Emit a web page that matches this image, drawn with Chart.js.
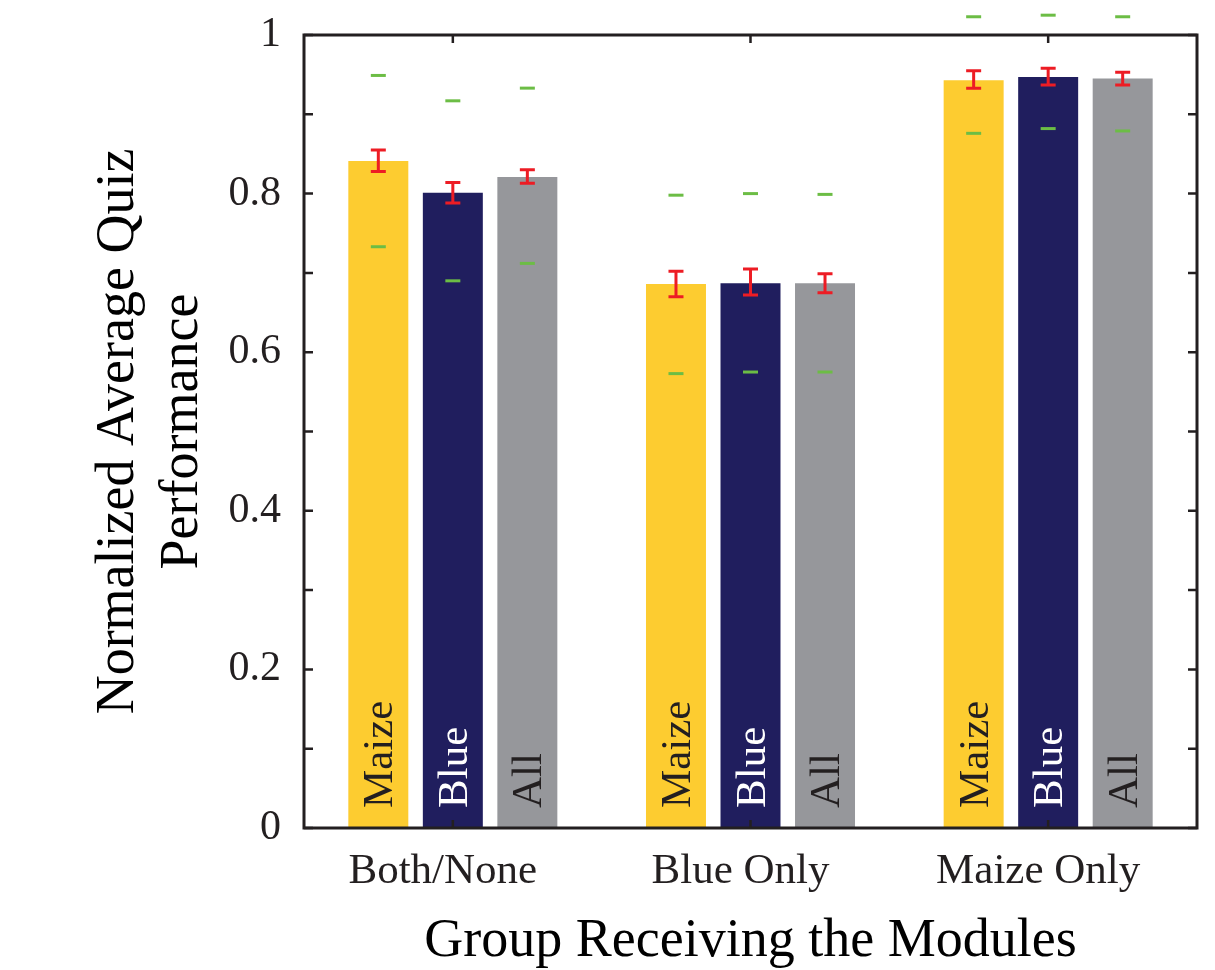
<!DOCTYPE html>
<html>
<head>
<meta charset="utf-8">
<script src="https://cdn.jsdelivr.net/npm/chart.js@4/dist/chart.umd.min.js"></script>
<style>
  html, body { margin: 0; padding: 0; background: #ffffff; }
  #wrap { width: 1215px; height: 970px; }
</style>
</head>
<body>
<div id="wrap"><canvas id="c" width="1215" height="970"></canvas></div>
<script>
// ---- data ----
const categories = ['Both/None', 'Blue Only', 'Maize Only'];
const seriesNames = ['Maize', 'Blue', 'All'];

const maizeValues = [0.841, 0.686, 0.943];
const blueValues  = [0.801, 0.687, 0.947];
const allValues   = [0.821, 0.687, 0.945];

// standard error bars (low / high)
const maizeErrLow  = [0.828, 0.670, 0.933];
const maizeErrHigh = [0.855, 0.702, 0.955];
const blueErrLow   = [0.788, 0.672, 0.937];
const blueErrHigh  = [0.814, 0.705, 0.958];
const allErrLow    = [0.813, 0.675, 0.937];
const allErrHigh   = [0.830, 0.699, 0.953];

// green markers (upper / lower)
const maizeMarkHigh = [0.949, 0.798, 1.023];
const maizeMarkLow  = [0.733, 0.573, 0.876];
const blueMarkHigh  = [0.917, 0.800, 1.025];
const blueMarkLow   = [0.690, 0.575, 0.882];
const allMarkHigh   = [0.933, 0.799, 1.023];
const allMarkLow    = [0.712, 0.575, 0.879];

const yTickValues = [0, 0.2, 0.4, 0.6, 0.8, 1];
const yTickLabels = ['0', '0.2', '0.4', '0.6', '0.8', '1'];

// ---- styles ----
const INK = '#231F20';
const barColors = ['#FDCC30', '#201E5E', '#96979B'];
const barLabelColors = ['#231F20', '#FFFFFF', '#231F20'];
const SERIF = '"Liberation Serif", "Times New Roman", Times, serif';

const errLows  = [maizeErrLow, blueErrLow, allErrLow];
const errHighs = [maizeErrHigh, blueErrHigh, allErrHigh];
const markHighs = [maizeMarkHigh, blueMarkHigh, allMarkHigh];
const markLows  = [maizeMarkLow, blueMarkLow, allMarkLow];

const overlay = {
  id: 'overlay',
  afterDatasetsDraw(chart) {
    const ctx = chart.ctx;
    const y = chart.scales.y;
    const x = chart.scales.x;
    const area = chart.chartArea;
    ctx.save();
    // bar labels
    chart.data.datasets.forEach((ds, di) => {
      const meta = chart.getDatasetMeta(di);
      meta.data.forEach((bar) => {
        ctx.save();
        ctx.translate(bar.x + 14, bar.base - 20);
        ctx.rotate(-Math.PI / 2);
        ctx.font = '43px ' + SERIF;
        ctx.fillStyle = barLabelColors[di];
        ctx.textAlign = 'left';
        ctx.textBaseline = 'alphabetic';
        ctx.fillText(seriesNames[di], 0, 0);
        ctx.restore();
      });
    });
    // error bars
    ctx.strokeStyle = '#ED1C24';
    ctx.lineWidth = 3;
    chart.data.datasets.forEach((ds, di) => {
      const meta = chart.getDatasetMeta(di);
      meta.data.forEach((bar, i) => {
        const lo = y.getPixelForValue(errLows[di][i]);
        const hi = y.getPixelForValue(errHighs[di][i]);
        const cx = bar.x;
        ctx.beginPath();
        ctx.moveTo(cx, lo); ctx.lineTo(cx, hi);
        ctx.moveTo(cx - 7.5, lo); ctx.lineTo(cx + 7.5, lo);
        ctx.moveTo(cx - 7.5, hi); ctx.lineTo(cx + 7.5, hi);
        ctx.stroke();
      });
    });
    // green markers
    ctx.strokeStyle = '#6CBD45';
    ctx.lineWidth = 3;
    chart.data.datasets.forEach((ds, di) => {
      const meta = chart.getDatasetMeta(di);
      meta.data.forEach((bar, i) => {
        [markHighs[di][i], markLows[di][i]].forEach(v => {
          const py = y.getPixelForValue(v);
          ctx.beginPath();
          ctx.moveTo(bar.x - 7.5, py); ctx.lineTo(bar.x + 7.5, py);
          ctx.stroke();
        });
      });
    });
    // frame
    ctx.strokeStyle = INK;
    ctx.lineWidth = 3;
    ctx.strokeRect(area.left, area.top, area.right - area.left, area.bottom - area.top);
    // y ticks (minor every 0.1) inward on both sides
    ctx.lineWidth = 2.5;
    ctx.beginPath();
    y.ticks.forEach(t => {
      const py = y.getPixelForValue(t.value);
      ctx.moveTo(area.left, py); ctx.lineTo(area.left + 9, py);
      ctx.moveTo(area.right, py); ctx.lineTo(area.right - 9, py);
    });
    // x ticks at category centers, top and bottom
    categories.forEach((c, i) => {
      const px = x.getPixelForValue(i);
      ctx.moveTo(px, area.top); ctx.lineTo(px, area.top + 8);
      ctx.moveTo(px, area.bottom); ctx.lineTo(px, area.bottom - 8);
    });
    ctx.stroke();
    ctx.restore();
  }
};

const valuesList = [maizeValues, blueValues, allValues];

new Chart(document.getElementById('c'), {
  type: 'bar',
  data: {
    labels: categories,
    datasets: seriesNames.map((n, di) => ({
      label: n,
      data: valuesList[di],
      backgroundColor: barColors[di],
      borderWidth: 0,
      categoryPercentage: 0.751,
      barPercentage: 0.805
    }))
  },
  options: {
    responsive: false,
    animation: false,
    events: [],
    layout: { padding: { top: 35, right: 18, left: 0, bottom: 0 } },
    plugins: { legend: { display: false }, tooltip: { enabled: false } },
    scales: {
      x: {
        afterFit(s) { s.height = 142; s.paddingLeft = 0; s.paddingRight = 0; },
        grid: { display: false, drawTicks: false },
        border: { display: false },
        ticks: {
          color: INK,
          font: { family: SERIF, size: 43 },
          padding: 18,
          labelOffset: -10,
          maxRotation: 0,
          autoSkip: false
        },
        title: {
          display: true,
          text: 'Group Receiving the Modules',
          color: '#000000',
          font: { family: SERIF, size: 54, lineHeight: 1.05 },
          padding: { top: 0, bottom: 0 }
        }
      },
      y: {
        min: 0,
        max: 1,
        afterFit(s) { s.width = 304; s.paddingTop = 0; s.paddingBottom = 0; },
        grid: { display: false, drawTicks: false },
        border: { display: false },
        ticks: {
          stepSize: 0.1,
          color: INK,
          font: { family: SERIF, size: 42 },
          padding: 23,
          autoSkip: false,
          callback(v) {
            const idx = yTickValues.findIndex(t => Math.abs(t - v) < 1e-6);
            return idx >= 0 ? yTickLabels[idx] : '';
          }
        },
        title: {
          display: true,
          text: ['Normalized Average Quiz', 'Performance'],
          color: '#000000',
          font: { family: SERIF, size: 54, lineHeight: 1.2 },
          padding: { top: 86, bottom: 0 }
        }
      }
    }
  },
  plugins: [overlay]
});
</script>
</body>
</html>
